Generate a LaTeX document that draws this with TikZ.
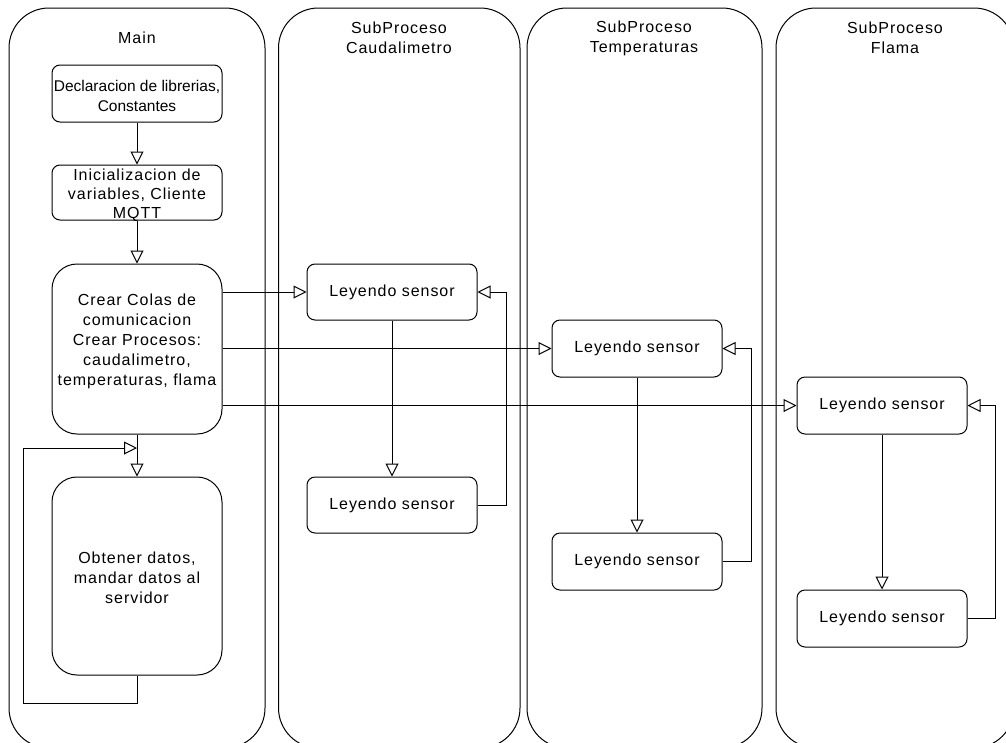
\documentclass[tikz,border=0pt]{standalone}
\usepackage{fontspec}
\setmainfont{Liberation Sans}[LetterSpace=6]
\newfontfamily\tightfont{Liberation Sans}
\usetikzlibrary{arrows.meta}
\newcommand{\fsn}{\fontsize{16}{20}\selectfont}
\newcommand{\fss}{\tightfont\fontsize{15.5}{20.5}\selectfont}
\newcommand{\fsi}{\fontsize{16}{19}\selectfont}
\begin{document}
\begin{tikzpicture}[x=1pt,y=-1pt,
  lane/.style={draw, line width=1pt, rounded corners=40pt, inner sep=0pt, minimum height=740pt},
  box/.style={draw, line width=1pt, rounded corners=8pt, minimum width=170pt, align=center, inner sep=0pt, font=\fsn},
  bigbox/.style={box, rounded corners=25pt},
  txt/.style={align=center, inner sep=0pt, font=\fsn},
  arr/.style={line width=1pt, -{Triangle[open, fill=white, length=13pt, width=13pt]}},
  conn/.style={line width=1pt}]
\useasboundingbox (0,0) rectangle (1006,742);
\clip (0,0) rectangle (1006,742);
% lanes
\node[lane, minimum width=256pt] (mainLane) at (137,378) {};
\node[lane, minimum width=241.5pt] (caudLane) at (399.25,378) {};
\node[lane, minimum width=235pt] (tempLane) at (644.5,378) {};
\node[lane, minimum width=238pt] (flamaLane) at (895,378) {};
% titles
\node[txt] (mainTitle) at (137,38) {Main};
\node[txt] (caudTitle) at (399,38) {SubProceso\\Caudalimetro};
\node[txt] (tempTitle) at (644,38) {SubProceso\\Temperaturas};
\node[txt] (flamaTitle) at (895,38) {SubProceso\\Flama};
% main boxes
\node[box, minimum height=57pt] (decl) at (137,93.5) {};
\node[txt, font=\fss] (declText) at (137,96) {Declaracion de librerias,\\Constantes};
\node[box, minimum height=55pt] (inic) at (137,192.5) {};
\node[txt, font=\fsi] (inicText) at (137,195) {Inicializacion de\\variables, Cliente\\MQTT};
\node[bigbox, minimum height=170pt] (crear) at (137,349) {};
\node[txt] (crearText) at (137,341) {Crear Colas de\\comunicacion\\Crear Procesos:\\caudalimetro,\\temperaturas, flama};
\node[bigbox, minimum height=198pt] (obt) at (137,576) {};
\node[txt] (obtText) at (137,578) {Obtener datos,\\mandar datos al\\servidor};
% sensor boxes
\node[box, minimum height=56pt] (c1) at (392,292) {Leyendo sensor};
\node[box, minimum height=56pt] (c2) at (392,505) {Leyendo sensor};
\node[box, minimum height=57pt] (t1) at (637,348.5) {Leyendo sensor};
\node[box, minimum height=57pt] (t2) at (637,561.5) {Leyendo sensor};
\node[box, minimum height=57pt] (f1) at (882,405.5) {Leyendo sensor};
\node[box, minimum height=57pt] (f2) at (882,618.5) {Leyendo sensor};
% main flow
\draw[arr] (decl) -- (inic);
\draw[arr] (inic) -- (crear);
\draw[arr] (crear) -- (obt);
\coordinate (loopIn) at (137,448);
\draw[arr] (obt.south) -- ++(0,28) -| (23,448) -- (loopIn);
% spawn arrows
\draw[arr] (crear.east |- c1.west) -- (c1.west);
\draw[arr] (crear.east |- t1.west) -- (t1.west);
\draw[arr] (crear.east |- f1.west) -- (f1.west);
% subprocess loops
\draw[arr] (c1) -- (c2);
\draw[arr] (c2.east) -- ++(29,0) |- (c1.east);
\draw[arr] (t1) -- (t2);
\draw[arr] (t2.east) -- ++(29,0) |- (t1.east);
\draw[arr] (f1) -- (f2);
\draw[arr] (f2.east) -- ++(28,0) |- (f1.east);
\end{tikzpicture}
\end{document}
